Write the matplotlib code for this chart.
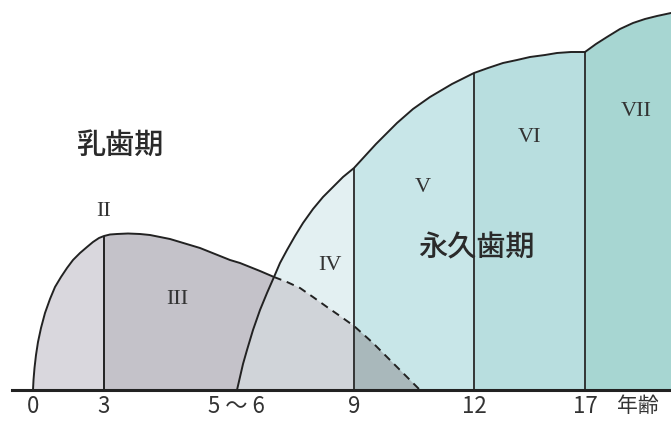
import numpy as np
import matplotlib.pyplot as plt

# schematic age axis: horizontal position of each age mark and its label
age_pos = [33, 104, 236, 354, 474, 585]
age_labels = ['0', '3', '5 ～ 6', '9', '12', '17']

# deciduous dentition curve, solid part (0 yrs up to where it meets the permanent curve)
prim_x = np.array([33, 33.5, 34.5, 36, 38, 41, 45, 50, 55, 61, 67, 73, 80, 87, 93, 99,
                   104, 110, 117, 128, 140, 150, 160, 170, 180, 190, 200, 210, 220,
                   230, 240, 250, 260, 274])
prim_y = np.array([0, 10, 22, 35, 48, 62, 77, 91, 103, 113, 122, 130, 137, 143, 148, 152,
                   154, 155.5, 156, 156.5, 156, 155, 153, 151, 148, 145, 142, 138, 134,
                   130, 127, 123, 119, 113])

# deciduous dentition curve, dashed part (hidden under the permanent period)
dash_x = np.array([274, 287, 300, 313, 327, 340, 354, 363, 373, 385, 397, 408, 420])
dash_y = np.array([113, 108, 102, 93, 83, 74, 64, 56, 47, 35, 23, 12, 0])

# permanent dentition curve (5~6 yrs up to 17 yrs)
perm_x = np.array([237, 240, 243, 247, 253, 260, 267, 274, 280, 287, 295, 303, 313, 323,
                   333, 343, 354, 365, 376, 387, 397, 413, 430, 452, 474, 488, 503, 517,
                   530, 545, 557, 571, 585])
perm_y = np.array([0, 13, 26, 40, 60, 80, 97, 113, 127, 140, 154, 167, 181, 193,
                   203, 213, 222, 234, 246, 257, 267, 281, 293, 306, 317, 322, 327, 330,
                   333, 335, 337, 338, 338])

# stage VII curve (17 yrs onward)
adult_x = np.array([585, 596, 607, 620, 633, 645, 657, 671])
adult_y = np.array([338, 346, 353, 361, 367, 371, 374, 377])

# colours of the stages
c_I = '#d9d7dd'
c_III = '#c4c2c9'
c_mix = '#d0d4d9'
c_mix2 = '#a9b8bb'
c_IV = '#e3f0f2'
c_V = '#c8e6e8'
c_VI = '#b8dedf'
c_VII = '#a7d6d2'
ink = '#222222'

fig = plt.figure(figsize=(6.71, 4.24), dpi=100)
ax = fig.add_axes([12 / 671, 0, 659 / 671, 1])
ax.set_xlim(12, 671)
ax.set_ylim(-34, 390)

# --- permanent dentition stages ---
m = (perm_x >= 354) & (perm_x <= 474)
ax.fill_between(perm_x[m], 0, perm_y[m], color=c_V, lw=0)
m = (perm_x >= 474)
ax.fill_between(perm_x[m], 0, perm_y[m], color=c_VI, lw=0)
ax.fill_between(adult_x, 0, adult_y, color=c_VII, lw=0)

# stage IV: between permanent curve and dashed deciduous curve
m_p = (perm_x >= 274) & (perm_x <= 354)
m_d = (dash_x <= 354)
ax.fill(np.r_[perm_x[m_p], dash_x[m_d][::-1]],
        np.r_[perm_y[m_p], dash_y[m_d][::-1]], color=c_IV, lw=0)

# --- deciduous dentition stages ---
m = prim_x <= 104
ax.fill_between(prim_x[m], 0, prim_y[m], color=c_I, lw=0)

# stage III: under deciduous curve, left of the permanent curve
m = prim_x >= 104
m_p = perm_x <= 274
ax.fill(np.r_[prim_x[m], perm_x[m_p][::-1], 104],
        np.r_[prim_y[m], perm_y[m_p][::-1], 0], color=c_III, lw=0)

# overlap of both periods
m_d = dash_x <= 354
ax.fill(np.r_[perm_x[m_p], dash_x[m_d], 354],
        np.r_[perm_y[m_p], dash_y[m_d], 0], color=c_mix, lw=0)
m_d = dash_x >= 354
ax.fill_between(dash_x[m_d], 0, dash_y[m_d], color=c_mix2, lw=0)

# --- outlines ---
lw = 1.4
ax.plot(prim_x, prim_y, color=ink, lw=lw, solid_capstyle='round')
ax.plot(dash_x, dash_y, color=ink, lw=lw, ls=(0, (4, 3)))
ax.plot(perm_x, perm_y, color=ink, lw=lw)
ax.plot(adult_x, adult_y, color=ink, lw=lw)

# stage boundaries
ax.vlines(104, 0, prim_y[prim_x == 104][0], color=ink, lw=lw)
for xb in (354, 474, 585):
    ax.vlines(xb, 0, perm_y[perm_x == xb][0], color=ink, lw=lw * 0.9)

# --- axis ---
for s in ('top', 'right', 'left'):
    ax.spines[s].set_visible(False)
ax.spines['bottom'].set_position(('data', 0))
ax.spines['bottom'].set_linewidth(2.2)
ax.spines['bottom'].set_color(ink)
ax.set_yticks([])
ax.set_xticks(age_pos)
ax.set_xticklabels(age_labels, fontsize=16, color='#333333',
                   family=['Liberation Sans Narrow', 'Noto Sans CJK JP', 'DejaVu Sans'])
ax.tick_params(axis='x', length=0, pad=3.5)
ax.patch.set_alpha(0)

jp = ['Noto Sans CJK JP', 'DejaVu Sans']
ax.text(638, -16, '年齢', fontsize=15, color='#333333', family=jp,
        ha='center', va='center')

# --- labels ---
ax.text(120, 245, '乳歯期', fontsize=21, color='#2a2a2a', family=jp,
        weight='medium', ha='center', va='center')
ax.text(476, 142, '永久歯期', fontsize=21, color='#2a2a2a', family=jp,
        weight='medium', ha='center', va='center')

roman = dict(fontsize=16, color='#333333', family='Liberation Serif',
             ha='center', va='center')
ax.text(104, 178, 'II', **roman)
ax.text(177, 90, 'III', **roman)
ax.text(330, 125, 'IV', **roman)
ax.text(423, 203, 'V', **roman)
ax.text(530, 252, 'VI', **roman)
ax.text(636, 278, 'VII', **roman)

fig.savefig('out.png', dpi=100, facecolor='white')
